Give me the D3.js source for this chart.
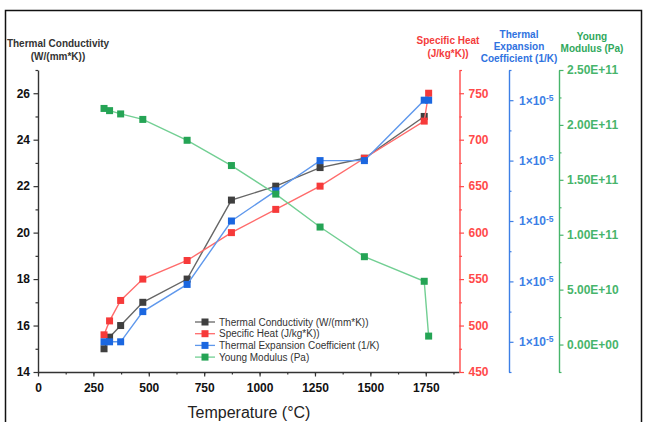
<!DOCTYPE html>
<html>
<head>
<meta charset="utf-8">
<script src="https://cdn.jsdelivr.net/npm/d3@7"></script>
<style>
  body { margin: 0; background: #fff; }
  svg { font-family: "Liberation Sans", Arial, sans-serif; }
</style>
</head>
<body>
<div id="chart"></div>
<script>
// values
const temperature = [298, 323, 373, 473, 673, 873, 1073, 1273, 1473, 1743, 1763]
const conductivity = [15.0, 15.5, 16.0, 17.0, 18.0, 21.4, 22.0, 22.8, 23.2, 25.0]
const specificHeat = [490, 505, 527, 550, 570, 600, 625, 650, 680, 720, 750]
const expansion = [1.0e-5, 1.0e-5, 1.0e-5, 1.05e-5, 1.095e-5, 1.2e-5, 1.25e-5, 1.3e-5, 1.3e-5, 1.4e-5, 1.4e-5]
const youngModulus = [2.15e11, 2.13e11, 2.10e11, 2.05e11, 1.86e11, 1.63e11, 1.37e11, 1.07e11, 0.80e11, 0.576e11, 0.077e11]

const xTicks = [0, 250, 500, 750, 1000, 1250, 1500, 1750]
const condTicks = [14, 16, 18, 20, 22, 24, 26]
const heatTicks = [450, 500, 550, 600, 650, 700, 750]
const expTicks = [1.0e-5, 1.1e-5, 1.2e-5, 1.3e-5, 1.4e-5]
const youngTicks = [0, 5e10, 1e11, 1.5e11, 2e11, 2.5e11]

const legendNames = [
  'Thermal Conductivity (W/(mm*K))',
  'Specific Heat (J/kg*K))',
  'Thermal Expansion Coefficient (1/K)',
  'Young Modulus (Pa)',
]

const width = 647
const height = 422
const plotTop = 70
const plotBottom = 372

const svg = d3
  .select('#chart')
  .append('svg')
  .attr('width', width)
  .attr('height', height)

// outer frame
svg
  .append('rect')
  .attr('x', 5.5)
  .attr('y', 10.5)
  .attr('width', 636)
  .attr('height', 430)
  .attr('fill', 'none')
  .attr('stroke', '#111')
  .attr('stroke-width', 1.5)

const x = d3.scaleLinear([0, 1900], [38, 459])
const yCond = d3.scaleLinear([14, 27], [plotBottom, plotTop])
const yHeat = d3.scaleLinear([450, 775], [plotBottom, plotTop])
const yExp = d3.scaleLinear([0.95e-5, 1.45e-5], [plotBottom, plotTop])
const yYoung = d3.scaleLinear([-2.5e10, 2.5e11], [plotBottom, plotTop])

const colors = {
  cond: { axis: '#333', mark: '#3f3f3f', line: '#666', text: '#333' },
  heat: { axis: '#ff4a4a', mark: '#f63a3a', line: '#ff6b6b', text: '#f43c3c' },
  exp: { axis: '#3d7fe6', mark: '#1b67e0', line: '#5f98ec', text: '#2f72e0' },
  young: { axis: '#47b56b', mark: '#25a455', line: '#72cf93', text: '#2fa85c' },
}

// helper: draws an axis with major + minor ticks
function drawAxis(axisFn, scale, pos, majors, minors, color, fmt, isX) {
  const g = svg.append('g')
    .attr('transform', isX ? `translate(0,${pos})` : `translate(${pos},0)`)
  g.call(axisFn(scale).tickValues(minors).tickSize(2.5).tickSizeOuter(0).tickFormat(''))
  g.call(g2 => g2.selectAll('.tick line').attr('stroke', color).attr('stroke-width', 1.2))
  const gm = svg.append('g')
    .attr('transform', isX ? `translate(0,${pos})` : `translate(${pos},0)`)
  gm.call(axisFn(scale).tickValues(majors).tickSize(4.5).tickSizeOuter(0).tickPadding(3).tickFormat(fmt))
  gm.select('.domain').remove()
  g.select('.domain').attr('stroke', color).attr('stroke-width', 1.4)
  gm.selectAll('.tick line').attr('stroke', color).attr('stroke-width', 1.2)
  gm.selectAll('.tick text')
    .attr('fill', color)
    .attr('font-size', 12)
    .attr('font-weight', 700)
  return gm
}

// x axis
const xg = drawAxis(d3.axisBottom, x, plotBottom, xTicks, d3.range(0, 1900, 125), '#333', d3.format('d'), true)
xg.selectAll('.tick text').attr('fill', '#111').attr('dy', '1.05em')

// left axis
const lg = drawAxis(d3.axisLeft, yCond, 38, condTicks, d3.range(15, 27.5, 2), '#333', d3.format('d'), false)
lg.selectAll('.tick text').attr('fill', '#111').attr('x', -8)

// right axes
drawAxis(d3.axisRight, yHeat, 459.5, heatTicks, d3.range(475, 800, 50), colors.heat.axis, d3.format('d'), false)
  .selectAll('.tick text').attr('x', 9)

const eg = drawAxis(d3.axisRight, yExp, 509, expTicks, [0.95e-5, 1.05e-5, 1.15e-5, 1.25e-5, 1.35e-5, 1.45e-5], colors.exp.axis, () => '', false)
eg.selectAll('.tick text')
  .attr('x', 10)
  .attr('font-size', 12)
  .each(function (d) {
    const t = d3.select(this)
    const mant = Math.round(d / 1e-5)
    t.append('tspan').text(`${mant}×10`)
    t.append('tspan').attr('dy', '-0.45em').attr('font-size', 8.5).text('-5')
  })

drawAxis(d3.axisRight, yYoung, 559, youngTicks, d3.range(-2.5e10, 2.6e11, 5e10), colors.young.axis,
  d => d3.format('.2e')(d).replace('e+', 'E+').replace(/E\+(\d)$/, 'E+0$1'), false)
  .selectAll('.tick text').attr('x', 8)

// axis titles
function titleLines(lines, cx, y0, step, color) {
  const t = svg.append('text')
    .attr('text-anchor', 'middle')
    .attr('font-size', 10)
    .attr('font-weight', 700)
    .attr('fill', color)
  lines.forEach((s, i) => {
    t.append('tspan').attr('x', cx).attr('y', y0 + i * step).text(s)
  })
}
titleLines(['Thermal Conductivity', '(W/(mm*K))'], 58, 47, 12.5, '#333')
titleLines(['Specific Heat', '(J/kg*K))'], 448, 44, 13, colors.heat.text)
titleLines(['Thermal', 'Expansion', 'Coefficient (1/K)'], 519, 37.5, 12, colors.exp.text)
titleLines(['Young', 'Modulus (Pa)'], 592, 39.5, 12, colors.young.text)

svg.append('text')
  .attr('x', 249)
  .attr('y', 418)
  .attr('text-anchor', 'middle')
  .attr('font-size', 16)
  .attr('fill', '#222')
  .text('Temperature (°C)')

// series
const series = [
  { vals: conductivity, y: yCond, c: colors.cond },
  { vals: specificHeat, y: yHeat, c: colors.heat },
  { vals: expansion, y: yExp, c: colors.exp },
  { vals: youngModulus, y: yYoung, c: colors.young },
]
const ms = 7

series.forEach(s => {
  const pts = s.vals.map((v, i) => [temperature[i], v])
  svg.append('path')
    .datum(pts)
    .attr('fill', 'none')
    .attr('stroke', s.c.line)
    .attr('stroke-width', 1.4)
    .attr('d', d3.line().x(d => x(d[0])).y(d => s.y(d[1])))
  svg.append('g')
    .selectAll('rect')
    .data(pts)
    .join('rect')
    .attr('x', d => x(d[0]) - ms / 2)
    .attr('y', d => s.y(d[1]) - ms / 2)
    .attr('width', ms)
    .attr('height', ms)
    .attr('fill', s.c.mark)
})

// legend
const legend = svg.append('g').attr('transform', 'translate(195,322)')
series.forEach((s, i) => {
  const row = legend.append('g').attr('transform', `translate(0,${i * 11.7})`)
  row.append('line')
    .attr('x1', 0).attr('x2', 20)
    .attr('stroke', s.c.line).attr('stroke-width', 1.3)
  row.append('rect')
    .attr('x', 10 - 3.5).attr('y', -3.5)
    .attr('width', 7).attr('height', 7)
    .attr('fill', s.c.mark)
  row.append('text')
    .attr('x', 24)
    .attr('dy', '0.35em')
    .attr('font-size', 10)
    .attr('fill', '#333')
    .text(legendNames[i])
})
</script>
</body>
</html>
